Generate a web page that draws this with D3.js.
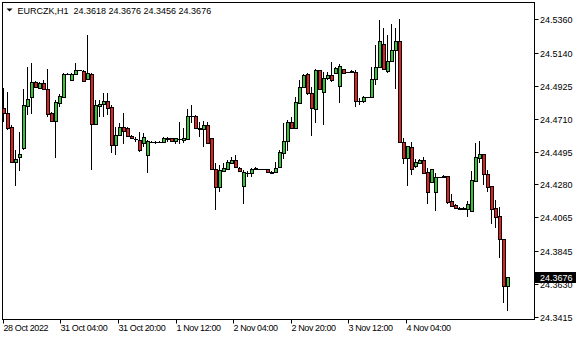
<!DOCTYPE html>
<html><head><meta charset="utf-8">
<script src="https://cdn.jsdelivr.net/npm/d3@7"></script>
<style>
body{margin:0;background:#fff}
svg{display:block}
text{font-family:"Liberation Sans",Arial,sans-serif;font-size:9px;fill:#000}
</style></head>
<body><svg id="c" width="580" height="340"></svg>
<script>
const symbolTitle = "EURCZK,H1";
const opens = [24.4779,24.4747,24.4655,24.4427,24.4459,24.4518,24.4792,24.4851,24.4949,24.4910,24.4942,24.4903,24.4747,24.4694,24.4812,24.4851,24.5001,24.4962,24.5001,24.5027,24.5021,24.4968,24.5001,24.4675,24.4792,24.4805,24.4825,24.4786,24.4538,24.4603,24.4655,24.4649,24.4596,24.4577,24.4570,24.4551,24.4472,24.4557,24.4554,24.4557,24.4557,24.4583,24.4583,24.4564,24.4577,24.4570,24.4577,24.4727,24.4727,24.4649,24.4642,24.4668,24.4583,24.4381,24.4264,24.4368,24.4381,24.4420,24.4440,24.4388,24.4270,24.4355,24.4355,24.4384,24.4381,24.4381,24.4381,24.4361,24.4361,24.4394,24.4485,24.4564,24.4688,24.4649,24.4812,24.4916,24.5001,24.4877,24.4773,24.5027,24.4884,24.4975,24.4995,24.5008,24.4923,24.5034,24.5014,24.5021,24.5014,24.4825,24.4825,24.4851,24.4851,24.4968,24.5047,24.5197,24.5021,24.5086,24.5158,24.5216,24.4557,24.4453,24.4525,24.4401,24.4420,24.4440,24.4361,24.4296,24.4231,24.4329,24.4335,24.4335,24.4172,24.4146,24.4126,24.4126,24.4120,24.4107,24.4303,24.4453,24.4479,24.4348,24.4270,24.4126,24.4074,24.3924,24.3618];
const highs = [24.4910,24.4884,24.4668,24.4505,24.4622,24.4903,24.5047,24.5073,24.4955,24.4949,24.4962,24.5034,24.4753,24.4831,24.4871,24.5008,24.5008,24.5008,24.5073,24.5030,24.5027,24.5256,24.5008,24.4831,24.4831,24.4877,24.4877,24.4799,24.4655,24.4681,24.4747,24.4655,24.4603,24.4590,24.4622,24.4616,24.4570,24.4564,24.4564,24.4561,24.4590,24.4590,24.4583,24.4583,24.4688,24.4649,24.4773,24.4799,24.4733,24.4688,24.4694,24.4688,24.4583,24.4420,24.4407,24.4420,24.4440,24.4459,24.4472,24.4394,24.4374,24.4368,24.4388,24.4394,24.4384,24.4384,24.4381,24.4368,24.4427,24.4505,24.4681,24.4701,24.4720,24.4851,24.4962,24.5001,24.5008,24.4916,24.5034,24.5027,24.5014,24.5014,24.5079,24.5047,24.5066,24.5034,24.5017,24.5024,24.5027,24.4844,24.4857,24.4854,24.5047,24.5190,24.5354,24.5301,24.5256,24.5327,24.5301,24.5360,24.4583,24.4531,24.4557,24.4446,24.4446,24.4459,24.4388,24.4381,24.4355,24.4332,24.4339,24.4335,24.4218,24.4153,24.4130,24.4133,24.4172,24.4368,24.4551,24.4564,24.4479,24.4374,24.4270,24.4179,24.4133,24.3924,24.3676];
const lows = [24.4688,24.4636,24.4420,24.4270,24.4368,24.4505,24.4733,24.4740,24.4910,24.4903,24.4897,24.4720,24.4688,24.4453,24.4786,24.4851,24.4995,24.4955,24.4995,24.5021,24.4955,24.4968,24.4374,24.4668,24.4720,24.4720,24.4733,24.4485,24.4472,24.4596,24.4544,24.4590,24.4577,24.4557,24.4492,24.4525,24.4355,24.4551,24.4544,24.4554,24.4551,24.4557,24.4557,24.4544,24.4544,24.4551,24.4570,24.4681,24.4649,24.4590,24.4525,24.4544,24.4374,24.4113,24.4231,24.4361,24.4374,24.4420,24.4388,24.4361,24.4153,24.4329,24.4329,24.4381,24.4378,24.4378,24.4361,24.4355,24.4355,24.4394,24.4446,24.4498,24.4642,24.4642,24.4812,24.4910,24.4864,24.4596,24.4681,24.4897,24.4668,24.4962,24.4949,24.5001,24.4812,24.5008,24.5008,24.5014,24.4786,24.4799,24.4812,24.4844,24.4851,24.4929,24.5040,24.5027,24.5008,24.5079,24.4903,24.4551,24.4414,24.4270,24.4342,24.4388,24.4414,24.4348,24.4153,24.4290,24.4107,24.4322,24.4329,24.4153,24.4133,24.4123,24.4120,24.4120,24.4068,24.4107,24.4296,24.4420,24.4277,24.4231,24.4022,24.3996,24.3800,24.3506,24.3456];
const closes = [24.4747,24.4649,24.4427,24.4446,24.4479,24.4799,24.4838,24.4949,24.4916,24.4942,24.4903,24.4740,24.4694,24.4818,24.4857,24.5001,24.4998,24.5001,24.5027,24.5024,24.4955,24.5008,24.4675,24.4799,24.4805,24.4825,24.4779,24.4538,24.4603,24.4655,24.4629,24.4596,24.4583,24.4574,24.4505,24.4590,24.4564,24.4554,24.4557,24.4554,24.4583,24.4580,24.4564,24.4583,24.4574,24.4583,24.4727,24.4724,24.4649,24.4645,24.4668,24.4551,24.4381,24.4264,24.4374,24.4388,24.4427,24.4440,24.4394,24.4368,24.4361,24.4352,24.4381,24.4388,24.4378,24.4381,24.4361,24.4358,24.4388,24.4492,24.4564,24.4688,24.4649,24.4818,24.4916,24.4995,24.4877,24.4779,24.5027,24.4903,24.4975,24.4995,24.4962,24.5040,24.5053,24.5008,24.5011,24.5017,24.4825,24.4822,24.4851,24.4848,24.4968,24.5047,24.5216,24.5034,24.5086,24.5158,24.5216,24.4557,24.4453,24.4531,24.4381,24.4427,24.4440,24.4355,24.4231,24.4381,24.4329,24.4326,24.4332,24.4166,24.4140,24.4126,24.4123,24.4123,24.4153,24.4309,24.4459,24.4479,24.4348,24.4264,24.4120,24.4068,24.3924,24.3618,24.3676];
const priceTicks = [24.5360,24.5140,24.4925,24.4710,24.4495,24.4280,24.4065,24.3845,24.3630,24.3415];
const timeLabels = ["28 Oct 2022","31 Oct 04:00","31 Oct 20:00","1 Nov 12:00","2 Nov 04:00","2 Nov 20:00","3 Nov 12:00","4 Nov 04:00"];
const timeBars = [-0.2,14.1,28.5,43,57.4,71.9,86.2,100.6];

const svg = d3.select("#c");
const L=2.5,R=534.5,T=2.5,B=319.5;
const n = closes.length;
const x = d3.scaleLinear().domain([0,n-1]).range([3.5,3.5+4*(n-1)]);
const y = d3.scaleLinear().domain([24.3415,24.5360]).range([317,19]);
const UP="#32c832", DN="#e61e1e";

svg.append("defs").append("clipPath").attr("id","pc").append("rect")
  .attr("x",3).attr("y",3).attr("width",531).attr("height",316);

const g = svg.append("g").attr("clip-path","url(#pc)");
const data = d3.range(n).map(i=>({i,o:opens[i],h:highs[i],l:lows[i],c:closes[i]}));
const px = d=>Math.round(x(d.i)-0.5);
const bTop = d=>Math.round(y(Math.max(d.o,d.c)));
const bBot = d=>Math.round(y(Math.min(d.o,d.c)));
const cg = g.selectAll("g.k").data(data).join("g");
cg.append("rect")
  .attr("x",px)
  .attr("y",d=>Math.round(y(d.h)))
  .attr("width",1)
  .attr("height",d=>Math.max(1,Math.round(y(d.l))-Math.round(y(d.h))))
  .attr("fill","#000");
cg.append("rect")
  .attr("x",d=>px(d)-1)
  .attr("y",bTop)
  .attr("width",4)
  .attr("height",d=>bBot(d)-bTop(d)+1)
  .attr("fill","#000");
cg.filter(d=>bBot(d)-bTop(d)>1)
  .append("rect")
  .attr("x",px)
  .attr("y",d=>bTop(d)+1)
  .attr("width",2)
  .attr("height",d=>bBot(d)-bTop(d)-1)
  .attr("fill",d=>d.c>=d.o?UP:DN);

// frame
svg.append("rect").attr("x",L).attr("y",T).attr("width",R-L).attr("height",B-T)
  .attr("fill","none").attr("stroke","#000").attr("stroke-width",1);

// right axis
const ra = svg.append("g");
priceTicks.forEach(p=>{
  const yy=Math.round(y(p))+0.5;
  ra.append("line").attr("x1",R).attr("x2",R+4).attr("y1",yy).attr("y2",yy).attr("stroke","#000");
  ra.append("text").attr("x",540).attr("y",yy).attr("dy","0.35em").text(p.toFixed(4));
});
// current price box
const last = closes[n-1];
const ly = Math.round(y(last));
ra.append("rect").attr("x",535).attr("y",ly-5).attr("width",41).attr("height",11).attr("fill","#000");
ra.append("text").attr("x",540).attr("y",ly+0.5).attr("dy","0.35em").style("fill","#fff").text(last.toFixed(4));

// bottom axis
const ba = svg.append("g");
timeLabels.forEach((t,k)=>{
  const xx=Math.round(x(timeBars[k]))+0.5;
  ba.append("line").attr("x1",xx).attr("x2",xx).attr("y1",B).attr("y2",B+4).attr("stroke","#000");
  ba.append("text").attr("x",xx).attr("y",331).style("letter-spacing","-0.4px").text(t);
});

// title
svg.append("path").attr("d","M6.5,8.5 L12.5,8.5 L9.5,11.5 Z").attr("fill","#000");
svg.append("text").attr("x",17.5).attr("y",13.5).style("white-space","pre")
  .text(symbolTitle+"  "+[opens[n-1],highs[n-1],lows[n-1],closes[n-1]].map(v=>v.toFixed(4)).join(" "));
</script></body></html>
